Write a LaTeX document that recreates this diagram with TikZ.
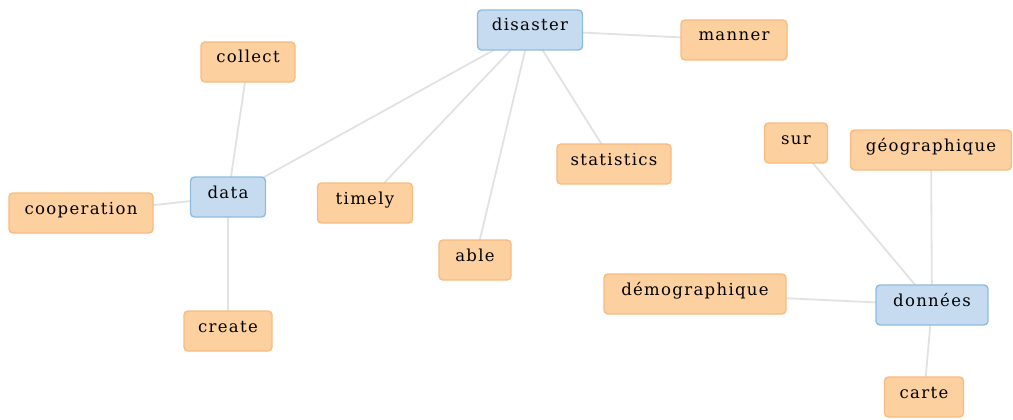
\documentclass[tikz,border=0pt]{standalone}
\usepackage{fontspec}
\setmainfont[LetterSpace=8]{DejaVu Serif}
\usetikzlibrary{backgrounds}

\definecolor{termfill}{HTML}{FDD09F}
\definecolor{termedge}{HTML}{F8BB80}
\definecolor{keyfill}{HTML}{C6DBF0}
\definecolor{keyedge}{HTML}{8CBDE0}
\definecolor{linkgray}{HTML}{E2E2E2}

\tikzset{
  term/.style={draw=termedge, fill=termfill, rounded corners=4pt,
    line width=1.4pt, minimum height=40pt, inner sep=0pt,
    text height=10pt, text depth=8pt,
    font=\fontsize{16.5}{18}\selectfont},
  keyterm/.style={term, draw=keyedge, fill=keyfill},
  link/.style={draw=linkgray, line width=1.8pt}
}

\begin{document}
\begin{tikzpicture}[x=1pt, y=-1pt, line cap=round, line join=round]

\useasboundingbox (0,0) rectangle (1013,420);

% central words
\node[keyterm, minimum width=105pt] (disaster) at (530,30)  {disaster};
\node[keyterm, minimum width=75pt]  (data)     at (228,197) {data};
\node[keyterm, minimum width=112pt] (donnees)  at (932,305) {données};

% words round disaster
\node[term, minimum width=106pt] (manner)     at (734,40)  {manner};
\node[term, minimum width=95pt]  (timely)     at (365,203) {timely};
\node[term, minimum width=72pt]  (able)       at (475,260) {able};
\node[term, minimum width=114pt] (statistics) at (614,164) {statistics};

% words round data
\node[term, minimum width=94pt]  (collect)     at (248,62)  {collect};
\node[term, minimum width=144pt] (cooperation) at (81,213)  {cooperation};
\node[term, minimum width=88pt]  (create)      at (228,331) {create};

% words round données
\node[term, minimum width=63pt]  (sur)           at (796,143) {sur};
\node[term, minimum width=161pt] (geographique)  at (931,150) {géographique};
\node[term, minimum width=182pt] (demographique) at (695,294) {démographique};
\node[term, minimum width=79pt]  (carte)         at (924,397) {carte};

% links, behind the boxes
\begin{scope}[on background layer]
\foreach \a/\b in {disaster/manner, disaster/data, disaster/timely,
    disaster/able, disaster/statistics, data/collect, data/cooperation,
    data/create, donnees/sur, donnees/geographique,
    donnees/demographique, donnees/carte}
  \draw[link] (\a.center) -- (\b.center);
\end{scope}

\end{tikzpicture}
\end{document}
